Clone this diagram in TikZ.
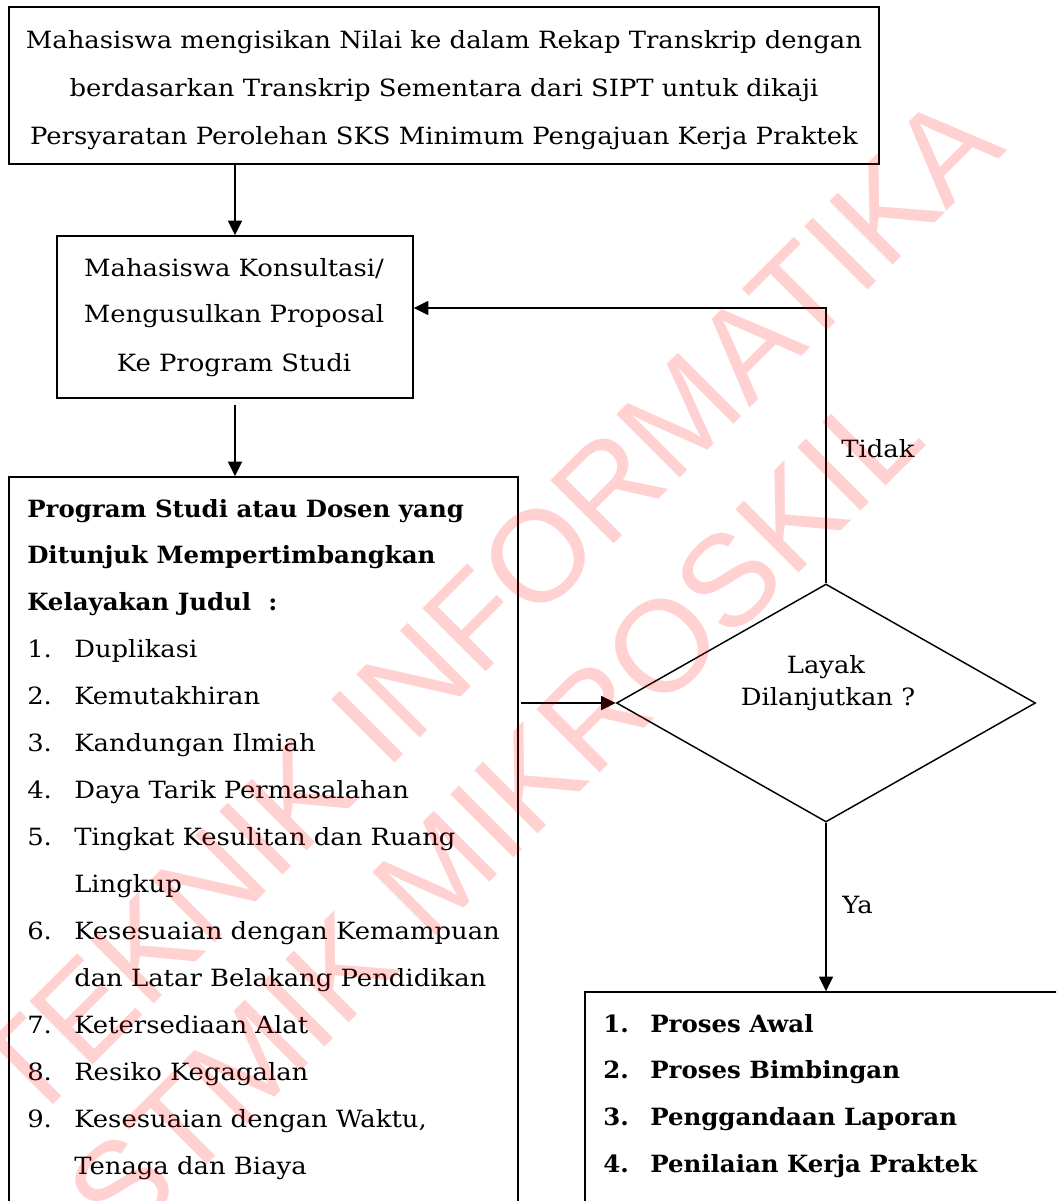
\documentclass[tikz,border=0pt]{standalone}
\usepackage{fontspec}
\setmainfont{DejaVu Serif}
\newfontfamily\bkwide[FakeStretch=1.09]{DejaVu Serif}
\newfontfamily\bkbold[FakeStretch=1.03]{DejaVu Serif}
\newfontfamily\wmfont{Liberation Sans}
\usetikzlibrary{arrows.meta,fit,shapes.geometric}
\newcommand\rgfont{\bkwide\fontsize{17.8}{20}\selectfont}
\newcommand\bdfont{\bkbold\bfseries\fontsize{17.8}{20}\selectfont}
\newcommand\topfont{\bkwide\fontsize{17.8}{20}\selectfont}
\begin{document}
\begin{tikzpicture}[x=0.75pt,y=-0.75pt,
  box/.style={draw, line width=1.1pt, inner sep=0pt},
  arr/.style={draw, line width=1.1pt, -{Triangle[length=11pt,width=10.5pt]}},
  ln/.style={anchor=base west, inner sep=0pt, font=\rgfont},
  lnc/.style={anchor=base, inner sep=0pt, font=\rgfont},
  lnb/.style={anchor=base west, inner sep=0pt, font=\bdfont},
  tln/.style={anchor=base, inner sep=0pt, font=\topfont},
  wmk/.style={anchor=base west, inner sep=0pt, rotate=45, text=red, opacity=0.18,
    font=\wmfont\fontsize{97.5}{110}\selectfont}
]
\useasboundingbox (0,0) rectangle (1056,1201);
\clip (0,0) rectangle (1056,1201);
\fill[white] (0,0) rectangle (1056,1201);

% boxes
\node[box, fit={(9,7) (879,164)}] (top) {};
\node[box, fit={(57,236) (413,398)}] (b2) {};
\node[box, fit={(9,477) (518,1230)}] (b3) {};
\node[box, fit={(585,992) (1085,1230)}] (b4) {};
\node[draw, line width=1.1pt, diamond, inner sep=0pt, minimum width=314.25pt, minimum height=178.5pt] (dia) at (826,703) {};

% top box text
\node[tln] (t1) at (444,49) {Mahasiswa mengisikan Nilai ke dalam Rekap Transkrip dengan};
\node[tln] (t2) at (444,97) {berdasarkan Transkrip Sementara dari SIPT untuk dikaji};
\node[tln] (t3) at (444,145) {Persyaratan Perolehan SKS Minimum Pengajuan Kerja Praktek};

% box 2 text
\node[lnc] (m1) at (234,277) {Mahasiswa Konsultasi/};
\node[lnc] (m2) at (234,323) {Mengusulkan Proposal};
\node[lnc] (m3) at (234,371) {Ke Program Studi};

% box 3 text
\node[lnb] (p1) at (27,517) {Program Studi atau Dosen yang};
\node[lnb] (p2) at (27,563) {Ditunjuk Mempertimbangkan};
\node[lnb] (p3) at (27,610) {Kelayakan Judul\ \ :};
\node[ln] (n1) at (27,657) {1.};
\node[ln] (n2) at (27,704) {2.};
\node[ln] (n3) at (27,751) {3.};
\node[ln] (n4) at (27,798) {4.};
\node[ln] (n5) at (27,845) {5.};
\node[ln] (n6) at (27,939) {6.};
\node[ln] (n7) at (27,1033) {7.};
\node[ln] (n8) at (27,1080) {8.};
\node[ln] (n9) at (27,1127) {9.};
\node[ln] (i1) at (74,657) {Duplikasi};
\node[ln] (i2) at (74,704) {Kemutakhiran};
\node[ln] (i3) at (74,751) {Kandungan Ilmiah};
\node[ln] (i4) at (74,798) {Daya Tarik Permasalahan};
\node[ln] (i5a) at (74,845) {Tingkat Kesulitan dan Ruang};
\node[ln] (i5b) at (74,892) {Lingkup};
\node[ln] (i6a) at (74,939) {Kesesuaian dengan Kemampuan};
\node[ln] (i6b) at (74,986) {dan Latar Belakang Pendidikan};
\node[ln] (i7) at (74,1033) {Ketersediaan Alat};
\node[ln] (i8) at (74,1080) {Resiko Kegagalan};
\node[ln] (i9a) at (74,1127) {Kesesuaian dengan Waktu,};
\node[ln] (i9b) at (74,1174) {Tenaga dan Biaya};

% diamond text
\node[lnc] (d1) at (826,673) {Layak};
\node[lnc] (d2) at (828,705) {Dilanjutkan ?};

% labels
\node[ln] (tidak) at (841,457) {Tidak};
\node[ln] (ya) at (842,913) {Ya};

% bottom box text
\node[lnb] (q1) at (603,1032) {1.};
\node[lnb] (q2) at (603,1078) {2.};
\node[lnb] (q3) at (603,1125) {3.};
\node[lnb] (q4) at (603,1172) {4.};
\node[lnb] (r1) at (650,1032) {Proses Awal};
\node[lnb] (r2) at (650,1078) {Proses Bimbingan};
\node[lnb] (r3) at (650,1125) {Penggandaan Laporan};
\node[lnb] (r4) at (650,1172) {Penilaian Kerja Praktek};

% connectors
\coordinate (tback) at (826,308);
\draw[arr] (b2.north |- top.south) -- (b2.north);
\draw[arr, shorten <=4.5pt] (b2.south) -- (b3.north -| b2.south);
\draw[arr, shorten <=2pt] (b3.east |- dia.west) -- (dia.west);
\draw[arr] (dia.north) -- (tback) -- (b2.east |- tback);
\draw[arr] (dia.south) -- (b4.north -| dia.south);

% watermark
\node[wmk] (wm1) at (29,1129) {TEKNIK INFORMATIKA};
\node[wmk] (wm2) at (122,1250) {STMIK MIKROSKIL};
\end{tikzpicture}
\end{document}
